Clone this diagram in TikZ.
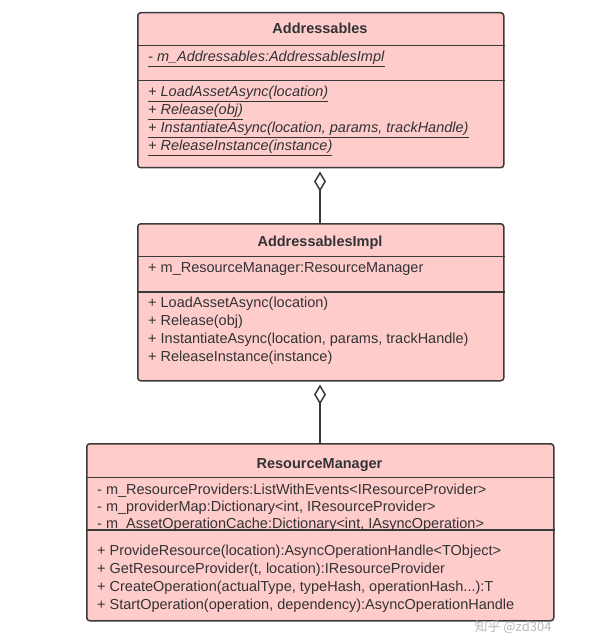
\documentclass[tikz,border=0pt]{standalone}
\usepackage{fontspec}
\setmainfont{Liberation Sans}
\newfontfamily\cjk{Noto Sans CJK SC}
\usetikzlibrary{arrows.meta}
\definecolor{boxfill}{HTML}{FFCCCC}
\definecolor{boxline}{HTML}{3A3A3A}
\definecolor{txt}{HTML}{333333}
\begin{document}
\begin{tikzpicture}[x=1pt,y=-1pt,
  classbox/.style={draw=boxline, fill=boxfill, line width=1.5pt, rounded corners=3pt, inner sep=0pt, anchor=north west},
  title/.style={font=\bfseries\fontsize{14.5}{16}\selectfont, text=txt, inner sep=0pt, anchor=base},
  member/.style={font=\fontsize{14.5}{16}\selectfont, text=txt, anchor=base west, inner sep=0pt},
  sep/.style={draw=boxline, line width=1.5pt},
  agg/.style={draw=boxline, line width=1.8pt, shorten >=3pt, -{Diamond[open, length=20pt, width=12pt, line width=1.5pt]}}]
\useasboundingbox (0,0) rectangle (595,636);
% Box 1
\node[classbox, minimum width=366pt, minimum height=155pt] (A) at (137,12) {};
\node[title] (At) at (320,34) {Addressables};
\draw[sep] (A.west |- 0,45.5) -- (A.east |- 0,45.5);
\draw[sep] (A.west |- 0,80.5) -- (A.east |- 0,80.5);
\node[member] (A1) at (148,62) {\underline{\textit{- m\_Addressables:AddressablesImpl}}};
\node[member] (A2) at (148,97) {\underline{\textit{+ LoadAssetAsync(location)}}};
\node[member] (A3) at (148,115) {\underline{\textit{+ Release(obj)}}};
\node[member] (A4) at (148,133) {\underline{\textit{+ InstantiateAsync(location, params, trackHandle)}}};
\node[member] (A5) at (148,151) {\underline{\textit{+ ReleaseInstance(instance)}}};
% Box 2
\node[classbox, minimum width=366pt, minimum height=157pt] (B) at (137,223) {};
\node[title] (Bt) at (320,246) {AddressablesImpl};
\draw[sep] (B.west |- 0,256.5) -- (B.east |- 0,256.5);
\draw[sep] (B.west |- 0,292) -- (B.east |- 0,292);
\node[member] (B1) at (148,272) {+ m\_ResourceManager:ResourceManager};
\node[member] (B2) at (148,307) {+ LoadAssetAsync(location)};
\node[member] (B3) at (148,325) {+ Release(obj)};
\node[member] (B4) at (148,343) {+ InstantiateAsync(location, params, trackHandle)};
\node[member] (B5) at (148,361) {+ ReleaseInstance(instance)};
% Box 3
\node[classbox, minimum width=467pt, minimum height=177pt] (C) at (86,443) {};
\node[title] (Ct) at (319.5,468) {ResourceManager};
\draw[sep] (C.west |- 0,477.5) -- (C.east |- 0,477.5);
\draw[sep] (C.west |- 0,530) -- (C.east |- 0,530);
\node[member] (C1) at (97,494) {- m\_ResourceProviders:ListWithEvents<IResourceProvider>};
\node[member] (C2) at (97,511) {- m\_providerMap:Dictionary<int, IResourceProvider>};
\node[member] (C3) at (97,528) {- m\_AssetOperationCache:Dictionary<int, IAsyncOperation>};
\node[member] (C4) at (97,555) {+ ProvideResource(location):AsyncOperationHandle<TObject>};
\node[member] (C5) at (97,573) {+ GetResourceProvider(t, location):IResourceProvider};
\node[member] (C6) at (97,591) {+ CreateOperation(actualType, typeHash, operationHash...):T};
\node[member] (C7) at (97,609) {+ StartOperation(operation, dependency):AsyncOperationHandle};
% connectors
\draw[agg] (B.north -| 320,0) -- (A.south -| 320,0);
\draw[agg] (C.north -| 320,0) -- (B.south -| 320,0);
% watermark
\node[font=\cjk\fontsize{13}{15}\selectfont, text=gray!55, inner sep=0pt] (wm) at (513,627) {知乎 @zd304};
\end{tikzpicture}
\end{document}
